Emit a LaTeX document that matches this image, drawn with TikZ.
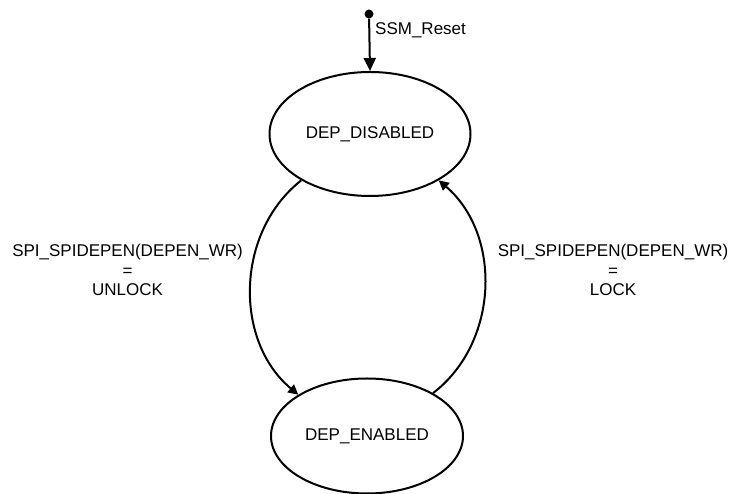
\documentclass[tikz,border=0pt]{standalone}
\usepackage{fontspec}
\setmainfont{Liberation Sans}
\usetikzlibrary{shapes.geometric,arrows.meta}
\begin{document}
\begin{tikzpicture}[x=1pt,y=1pt,
  state/.style={ellipse,draw,line width=2pt,inner sep=0pt},
  lbl/.style={font=\fontsize{17}{19.5}\selectfont,align=center,inner sep=0pt},
  trans/.style={line width=2pt,-{Triangle[length=10pt,width=10pt]}},
  initarrow/.style={line width=2pt,-{Triangle[length=13pt,width=12pt]}}]
\useasboundingbox (0,0) rectangle (730,494);
\node[state,minimum width=201pt,minimum height=124pt,lbl] (dis) at (370,360) {DEP\_DISABLED};
\node[state,minimum width=192pt,minimum height=115pt,lbl] (en) at (367,58) {DEP\_ENABLED};
\node[circle,fill,inner sep=0pt,minimum size=9pt] (init) at (369,480) {};
\draw[initarrow] (init) -- (dis.north);
\node[lbl,anchor=base west] (rst) at (375,459) {SSM\_Reset};
\draw[trans] (dis.214) to[bend right=51] (en.149);
\draw[trans] (en.33) to[bend right=51] (dis.326);
\node[lbl] (ul) at (127.5,224) {SPI\_SPIDEPEN(DEPEN\_WR)\\=\\UNLOCK};
\node[lbl] (lk) at (613,224) {SPI\_SPIDEPEN(DEPEN\_WR)\\=\\LOCK};
\end{tikzpicture}
\end{document}
